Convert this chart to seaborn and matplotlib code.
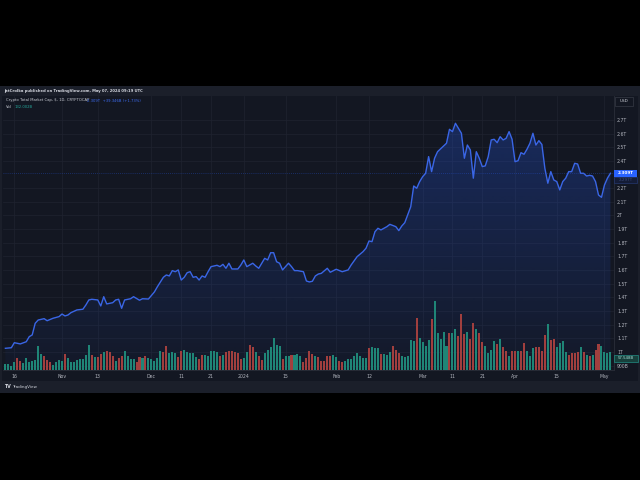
import numpy as np
import pandas as pd
import matplotlib
matplotlib.use("Agg")
import matplotlib.pyplot as plt
import seaborn as sns
from matplotlib.patches import Rectangle

# ---------------- data ----------------
start_date = "2023-10-13"

line_day = [0, 2, 3, 5, 7, 8, 9, 10, 11, 13, 14, 16, 18, 19, 20, 21, 22, 24, 26, 27,
            28, 29, 31, 32, 33, 34, 36, 37, 38, 39, 40, 42, 43, 45, 46, 48, 50, 51, 53, 54,
            55, 56, 57, 58, 59, 60, 61, 62, 63, 64, 65, 66, 67, 68, 69, 71, 72, 73, 74, 75,
            76, 78, 79, 80, 81, 83, 84, 85, 87, 88, 89, 90, 91, 92, 93, 94, 95, 96, 97, 98,
            100, 101, 102, 103, 104, 105, 106, 108, 109, 111, 113, 115, 116, 118, 120, 121, 122, 123, 124, 125,
            126, 128, 129, 131, 132, 133, 134, 136, 137, 138, 139, 140, 141, 142, 143, 144, 145, 147, 148, 149,
            150, 151, 153, 154, 155, 156, 157, 158, 159, 160, 161, 162, 163, 164, 165, 166, 167, 168, 169, 170,
            171, 172, 173, 174, 175, 176, 177, 178, 179, 180, 181, 182, 183, 184, 185, 186, 187, 188, 189, 190,
            191, 192, 193, 194, 195, 196, 197, 198, 199, 200, 201, 202, 203]

market_cap_t = [1.027, 1.031, 1.068, 1.059, 1.075, 1.112, 1.125, 1.210, 1.234, 1.244, 1.229, 1.247, 1.259, 1.278, 1.264, 1.271, 1.288, 1.308, 1.313, 1.344,
                1.381, 1.386, 1.381, 1.337, 1.405, 1.352, 1.361, 1.381, 1.386, 1.320, 1.381, 1.390, 1.405, 1.379, 1.390, 1.388, 1.440, 1.478, 1.547, 1.564,
                1.557, 1.596, 1.588, 1.601, 1.527, 1.547, 1.581, 1.588, 1.547, 1.552, 1.527, 1.557, 1.547, 1.588, 1.625, 1.635, 1.625, 1.642, 1.613, 1.650,
                1.608, 1.608, 1.637, 1.674, 1.625, 1.650, 1.630, 1.613, 1.686, 1.674, 1.727, 1.727, 1.661, 1.650, 1.601, 1.625, 1.650, 1.625, 1.596, 1.596,
                1.588, 1.520, 1.513, 1.518, 1.557, 1.571, 1.576, 1.613, 1.584, 1.606, 1.588, 1.601, 1.637, 1.698, 1.735, 1.760, 1.813, 1.808, 1.881, 1.906,
                1.894, 1.918, 1.935, 1.918, 1.889, 1.923, 1.947, 2.064, 2.216, 2.199, 2.248, 2.284, 2.309, 2.431, 2.321, 2.419, 2.467, 2.509, 2.529, 2.631,
                2.614, 2.675, 2.602, 2.419, 2.516, 2.480, 2.273, 2.467, 2.419, 2.358, 2.363, 2.431, 2.553, 2.558, 2.533, 2.577, 2.553, 2.565, 2.614, 2.558,
                2.394, 2.401, 2.460, 2.448, 2.485, 2.529, 2.602, 2.516, 2.548, 2.520, 2.346, 2.236, 2.321, 2.260, 2.248, 2.187, 2.248, 2.273, 2.321, 2.321,
                2.382, 2.377, 2.309, 2.309, 2.289, 2.294, 2.289, 2.248, 2.150, 2.133, 2.223, 2.273, 2.309]

volume_b = [18, 18, 11, 23, 35, 28, 21, 35, 25, 28, 30, 73, 48, 43, 30, 23, 16, 25, 30, 28,
            48, 35, 25, 25, 30, 33, 33, 45, 75, 45, 38, 38, 48, 53, 56, 53, 41, 28, 35, 41,
            56, 41, 33, 33, 25, 38, 35, 43, 35, 33, 28, 35, 58, 53, 73, 51, 53, 51, 38, 56,
            60, 53, 51, 51, 40, 33, 45, 45, 41, 58, 58, 55, 43, 45, 55, 58, 58, 53, 51, 33,
            35, 55, 75, 68, 53, 43, 31, 51, 61, 68, 95, 75, 73, 33, 41, 43, 45, 45, 48, 43,
            23, 35, 56, 48, 43, 38, 26, 28, 43, 43, 46, 38, 28, 23, 28, 33, 33, 43, 50, 43,
            35, 35, 66, 70, 65, 66, 48, 48, 45, 53, 71, 61, 50, 43, 38, 43, 90, 86, 155, 95,
            85, 71, 90, 153, 206, 111, 93, 113, 73, 111, 111, 123, 103, 168, 108, 115, 93, 140, 123, 111,
            85, 73, 51, 61, 88, 78, 93, 68, 56, 43, 56, 56, 56, 56, 80, 56, 43, 65, 70, 70,
            58, 106, 138, 91, 93, 70, 80, 88, 55, 45, 50, 50, 55, 68, 55, 45, 41, 45, 61, 78,
            71, 55, 50, 55]

volume_dir = ("GGGGRRGGGG" "GGGRRRGGGG" "RGGGGGGGGR" "GRRGRRRGRR" "GGGGRRGRGG"
              "GGGRRGGGRR" "GGGGGRRGGG" "GGRGRRRRRR" "GGRRGRRGGG" "GGGRGGRGGG"
              "RRRRGRRRRR" "GGRRGGGGGG" "GGRGGGRGGG" "RRRGGGGGRG" "GGGRGGGGGR"
              "GGRRRGRRGR" "RGGGGRGRRG" "RRGRRGGGRR" "RRGRRGGGGR" "RRRGRGRGRR" "GGGG")

tick_dates = ["2023-10-16", "2023-11-01", "2023-11-13", "2023-12-01", "2023-12-11", "2023-12-21",
              "2024-01-01", "2024-01-15", "2024-02-01", "2024-02-12", "2024-03-01", "2024-03-11",
              "2024-03-21", "2024-04-01", "2024-04-15", "2024-05-01"]
tick_labels = ["16", "Nov", "13", "Dec", "11", "21", "2024", "15", "Feb", "12", "Mar", "11",
               "21", "Apr", "15", "May"]

price_ticks = [0.9, 1.0, 1.1, 1.2, 1.3, 1.4, 1.5, 1.6, 1.7, 1.8, 1.9, 2.0, 2.1, 2.2, 2.4, 2.5, 2.6, 2.7]
price_labels = ["900B", "1T", "1.1T", "1.2T", "1.3T", "1.4T", "1.5T", "1.6T", "1.7T", "1.8T",
                "1.9T", "2T", "2.1T", "2.2T", "2.4T", "2.5T", "2.6T", "2.7T"]

last_price = 2.309

# ---------------- frames ----------------
BG = "#131722"
FRAME = "#1b1f2a"
TXT = "#b2b5be"
plt.rcParams["font.family"] = ["DejaVu Sans"]

W, H = 640, 480
fig = plt.figure(figsize=(6.4, 4.8), dpi=100, facecolor="black")


def fx(px):
    return px / W


def fy(py):
    return 1 - py / H


def prect(x0, y0, x1, y1, **kw):
    fig.add_artist(Rectangle((fx(x0), fy(y1)), (x1 - x0) / W, (y1 - y0) / H,
                             transform=fig.transFigure, **kw))


prect(0, 86, 640, 393, fc=FRAME, ec="none", zorder=0)
prect(2, 96, 638, 381, fc=BG, ec="none", zorder=0)

start = pd.Timestamp(start_date)
df_line = pd.DataFrame({"day": np.array(line_day, float), "cap": market_cap_t})
df_vol = pd.DataFrame({"day": np.arange(len(volume_b), dtype=float), "vol": volume_b,
                       "dir": list(volume_dir)})
tick_pos = [(pd.Timestamp(d) - start).days for d in tick_dates]

XL = (-0.8, 204.2)
YL = (0.868, 2.875)

ax = fig.add_axes([fx(3), fy(370), fx(614) - fx(3), fy(96) - fy(370)])
ax.patch.set_alpha(0)
axv = ax.twinx()

# gradient area under the line
fill = ax.fill_between(df_line["day"], df_line["cap"], YL[0], color="none", lw=0)
path = fill.get_paths()[0]
n = 256
grad = np.zeros((n, 1, 4))
grad[..., 0] = 41 / 255
grad[..., 1] = 98 / 255
grad[..., 2] = 1.0
grad[..., 3] = np.linspace(0.03, 0.26, n)[:, None]
im = ax.imshow(grad, extent=[XL[0], XL[1], YL[0], max(market_cap_t)], origin="lower",
               aspect="auto", zorder=1, interpolation="bilinear")
im.set_clip_path(path, transform=ax.transData)

sns.lineplot(data=df_line, x="day", y="cap", ax=ax, color="#3a66e6", linewidth=1.0, zorder=3)
ax.axhline(last_price, color="#2962ff", lw=0.6, ls=(0, (1, 1.5)), alpha=0.4, zorder=2)

# volume on twin axis
sns.barplot(data=df_vol, x="day", y="vol", hue="dir", native_scale=True, dodge=False,
            palette={"G": "#1f8577", "R": "#a13f3e"}, width=0.68, saturation=1,
            errorbar=None, legend=False, ax=axv, linewidth=0)
axv.set_ylim(0, 822)
axv.set_yticks([])
axv.set_ylabel("")
for s in axv.spines.values():
    s.set_visible(False)

ax.set_xlim(*XL)
ax.set_ylim(*YL)
ax.set_xticks(tick_pos)
ax.set_xticklabels(tick_labels)
ax.set_yticks(price_ticks)
ax.set_yticklabels(price_labels)
ax.yaxis.tick_right()
ax.tick_params(axis="y", length=0, pad=2.2, labelsize=3.3, labelcolor=TXT,
               left=False, labelleft=False, right=False, labelright=True)
ax.tick_params(axis="x", length=0, pad=3.0, labelsize=3.3, labelcolor=TXT)
ax.set_xlabel("")
ax.set_ylabel("")
axv.set_xlabel("")
ax.grid(True, color="#1f2330", lw=0.5, zorder=0)
ax.set_axisbelow(True)
for s in ["top", "left"]:
    ax.spines[s].set_visible(False)
for s in ["right", "bottom"]:
    ax.spines[s].set_color("#2a2e39")
    ax.spines[s].set_linewidth(0.6)

# ---------------- texts ----------------
fig.text(fx(4), fy(91), "JetCrolka published on TradingView.com, May 07, 2024 09:19 UTC",
         fontsize=2.7, color="#d1d4dc", fontweight="bold", va="center", ha="left")
fig.text(fx(6), fy(100.5), "Crypto Total Market Cap, $, 1D, CRYPTOCAP",
         fontsize=2.7, color="#c8cbd3", va="center", ha="left")
fig.text(fx(87), fy(100.5), "2.309T  +39.346B (+1.73%)",
         fontsize=2.7, color="#3d6cf0", va="center", ha="left")
fig.text(fx(6), fy(107.5), "Vol", fontsize=2.7, color="#c8cbd3", va="center", ha="left")
fig.text(fx(15), fy(107.5), "132.002B", fontsize=2.7, color="#26a69a", va="center", ha="left")

# price scale boxes
prect(615, 97, 633, 106, fc=BG, ec="#363a45", lw=0.5, zorder=5)
fig.text(fx(624), fy(101.5), "USD", fontsize=3.0, color="#d1d4dc", ha="center", va="center", zorder=6)
prect(614, 169.5, 637, 176.5, fc="#2962ff", ec="none", zorder=5)
fig.text(fx(625.5), fy(173), "2.309T", fontsize=3.0, color="white", ha="center", va="center",
         fontweight="bold", zorder=6)
prect(614, 177, 637, 183, fc="#141c36", ec="#2a3f80", lw=0.4, zorder=5)
fig.text(fx(625.5), fy(180), "2.297T", fontsize=3.0, color="#3b4a7a", ha="center", va="center", zorder=6)
prect(614, 355, 638, 361.5, fc="#17403c", ec="#26a69a", lw=0.4, zorder=5)
fig.text(fx(626), fy(358.2), "57.548B", fontsize=2.8, color="#a9ddd6", ha="center", va="center", zorder=6)

# footer logo
fig.text(fx(4), fy(387), "TV", fontsize=3.4, color="#d1d4dc", fontweight="bold", va="center", ha="left")
fig.text(fx(12), fy(387), "TradingView", fontsize=3.0, color="#d1d4dc", va="center", ha="left")

fig.savefig("out.png", dpi=100, facecolor="black")
